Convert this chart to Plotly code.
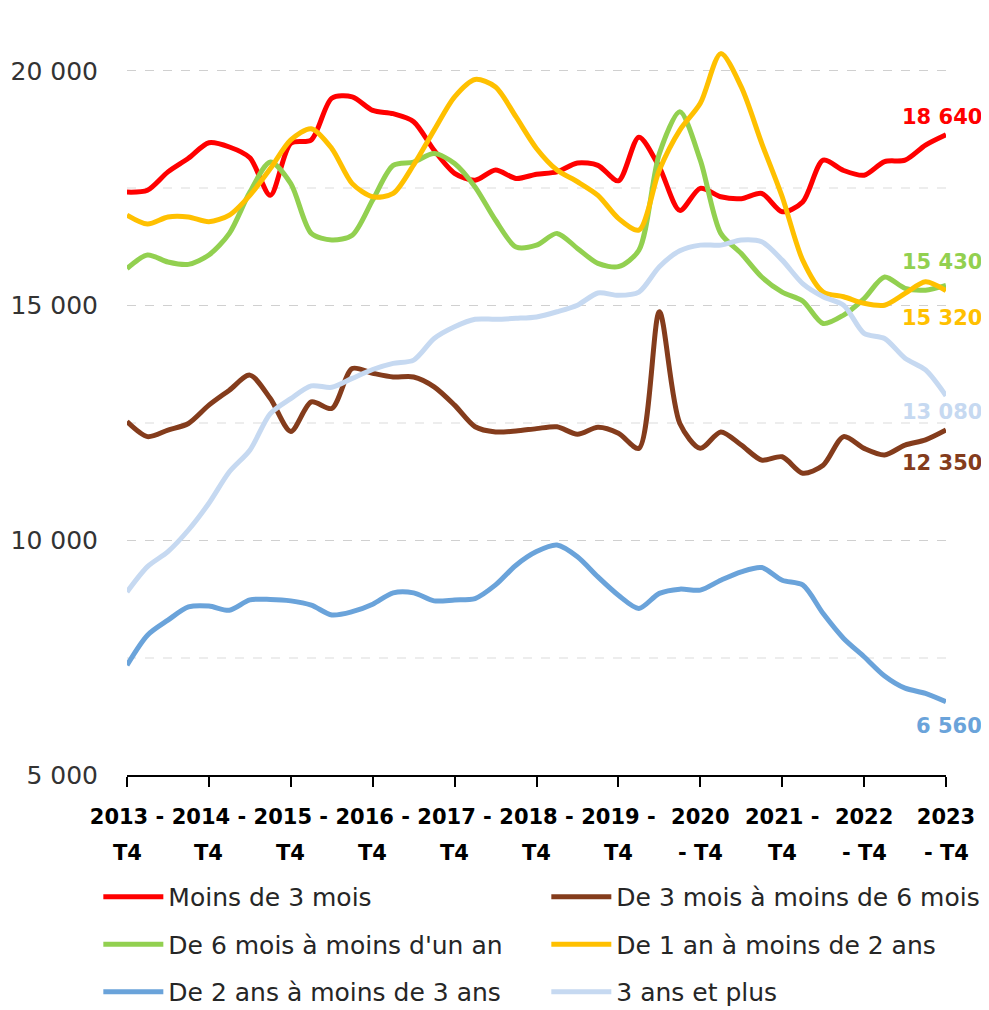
import plotly.graph_objects as go

# ---------------- data ----------------
quarters = []
for y in range(2013, 2024):
    for q in (["T4"] if y == 2013 else ["T1", "T2", "T3", "T4"]):
        quarters.append(f"{y} - {q}")
# 41 quarters: 2013 T4 ... 2023 T4

tick_line1 = ["2013 -", "2014 -", "2015 -", "2016 -", "2017 -", "2018 -", "2019 -",
              "2020", "2021 -", "2022", "2023"]
tick_line2 = ["T4", "T4", "T4", "T4", "T4", "T4", "T4", "- T4", "T4", "- T4", "- T4"]

moins_3_mois = [17420, 17460, 17850, 18140, 18470, 18380, 18150, 17350, 18460, 18530,
                19420, 19450, 19160, 19090, 18920, 18310, 17820, 17670, 17890, 17710,
                17800, 17850, 18040, 17990, 17660, 18590, 17950, 17030, 17500, 17320,
                17280, 17390, 17000, 17210, 18100, 17880, 17780, 18070, 18100, 18420,
                18640]
de_3_a_6_mois = [12530, 12210, 12350, 12490, 12880, 13200, 13520, 13020, 12320, 12950,
                 12810, 13660, 13560, 13480, 13480, 13270, 12880, 12420, 12310, 12330,
                 12380, 12420, 12260, 12410, 12280, 11960, 14870, 12490, 11960, 12310,
                 12030, 11710, 11780, 11430, 11600, 12210, 11960, 11820, 12030, 12140,
                 12350]
de_6_mois_a_1_an = [15790, 16080, 15930, 15880, 16080, 16540, 17420, 18060, 17600, 16540,
                    16400, 16500, 17250, 17990, 18060, 18240, 18030, 17530, 16820, 16250,
                    16290, 16540, 16220, 15900, 15830, 16180, 18240, 19130, 18100, 16540,
                    16110, 15610, 15290, 15100, 14620, 14800, 15150, 15610, 15370, 15330,
                    15430]
de_1_a_2_ans = [16930, 16740, 16890, 16890, 16790, 16930, 17350, 17920, 18530, 18770,
                18350, 17600, 17320, 17390, 18000, 18740, 19450, 19820, 19660, 19020,
                18350, 17890, 17640, 17350, 16860, 16610, 17890, 18740, 19310, 20370,
                19660, 18460, 17320, 15970, 15290, 15190, 15050, 15010, 15260, 15510,
                15320]
de_2_a_3_ans = [7340, 7980, 8300, 8580, 8600, 8510, 8730, 8740, 8710, 8620,
                8410, 8480, 8640, 8880, 8880, 8710, 8730, 8760, 9050, 9470,
                9760, 9900, 9650, 9220, 8830, 8550, 8870, 8960, 8940, 9150,
                9330, 9420, 9150, 9050, 8440, 7910, 7520, 7110, 6850, 6740,
                6560]
trois_ans_et_plus = [8900, 9440, 9760, 10220, 10790, 11460, 11920, 12700, 13020, 13290,
                     13260, 13450, 13640, 13770, 13840, 14300, 14550, 14710, 14710, 14730,
                     14760, 14870, 15010, 15270, 15220, 15290, 15830, 16170, 16290, 16290,
                     16400, 16360, 15970, 15470, 15190, 15010, 14410, 14300, 13880, 13630,
                     13080]

series_names = ["Moins de 3 mois", "De 3 mois à moins de 6 mois", "De 6 mois à moins d'un an",
                "De 1 an à moins de 2 ans", "De 2 ans à moins de 3 ans", "3 ans et plus"]
series_values = [moins_3_mois, de_3_a_6_mois, de_6_mois_a_1_an,
                 de_1_a_2_ans, de_2_a_3_ans, trois_ans_et_plus]
colors = ["#FF0000", "#843C1C", "#92D050", "#FFC000", "#6AA3DA", "#C6D9F1"]
legend_ids = ["legend", "legend2", "legend", "legend2", "legend", "legend2"]
label_yshift = [18, -33, 23, -27, -24, -16]

FONT = "DejaVu Sans"
x_idx = list(range(len(quarters)))

fig = go.Figure()
for name, vals, col, lg in zip(series_names, series_values, colors, legend_ids):
    fig.add_trace(go.Scatter(
        x=x_idx, y=vals, name=name, mode="lines",
        line=dict(color=col, width=5, shape="spline", smoothing=0.8),
        legend=lg, legendgroup=name,
        customdata=quarters,
        hovertemplate="%{customdata}<br>%{y}<extra>" + name + "</extra>",
        cliponaxis=False,
    ))

# end labels
for vals, col, ys in zip(series_values, colors, label_yshift):
    v = vals[-1]
    fig.add_annotation(
        x=x_idx[-1], y=v, xref="x", yref="y",
        text=f"<b>{v:,}</b>".replace(",", " "),
        showarrow=False, xanchor="right", yanchor="middle",
        xshift=38, yshift=ys,
        font=dict(family=FONT, size=21, color=col),
    )

tickpos = x_idx[::4]
# second line of category labels
for xp, t in zip(tickpos, tick_line2):
    fig.add_annotation(
        x=xp, y=-0.1017, xref="x", yref="paper",
        text=f"<b>{t}</b>", showarrow=False,
        xanchor="center", yanchor="middle",
        font=dict(family=FONT, size=21, color="#000000"),
    )

fig.update_layout(
    width=981, height=1020,
    margin=dict(l=119, r=43, t=0, b=253),
    paper_bgcolor="white", plot_bgcolor="white",
    separators=", ",
    font=dict(family=FONT, color="#262626"),
    showlegend=True,
    legend=dict(
        x=-0.035, y=-0.129, xanchor="left", yanchor="top",
        orientation="v", itemwidth=60, tracegroupgap=12,
        font=dict(family=FONT, size=25, color="#262626"),
        bgcolor="rgba(0,0,0,0)",
    ),
    legend2=dict(
        x=0.512, y=-0.129, xanchor="left", yanchor="top",
        orientation="v", itemwidth=60, tracegroupgap=12,
        font=dict(family=FONT, size=25, color="#262626"),
        bgcolor="rgba(0,0,0,0)",
    ),
    xaxis=dict(
        range=[0, 40], tickmode="array", tickvals=tickpos,
        ticktext=[f"<b>{t}</b>" for t in tick_line1],
        showgrid=False, zeroline=False,
        showline=True, linecolor="#000000", linewidth=2,
        ticks="outside", ticklen=10, tickwidth=2, tickcolor="#000000",
        ticklabelstandoff=12,
        tickfont=dict(family=FONT, size=21, color="#000000"),
    ),
    yaxis=dict(
        range=[5000, 21342], tickmode="array",
        tickvals=[5000, 10000, 15000, 20000],
        tickformat=",d",
        showgrid=True, gridcolor="#D0D0D0", gridwidth=1, griddash="dash",
        minor=dict(tickmode="array", tickvals=[7500, 12500, 17500],
                   showgrid=True, gridcolor="#EDEDED", gridwidth=2, ticks=""),
        zeroline=False, showline=False, ticks="",
        ticklabelstandoff=28,
        tickfont=dict(family=FONT, size=25, color="#333333"),
    ),
)

fig.write_html("out.html")
